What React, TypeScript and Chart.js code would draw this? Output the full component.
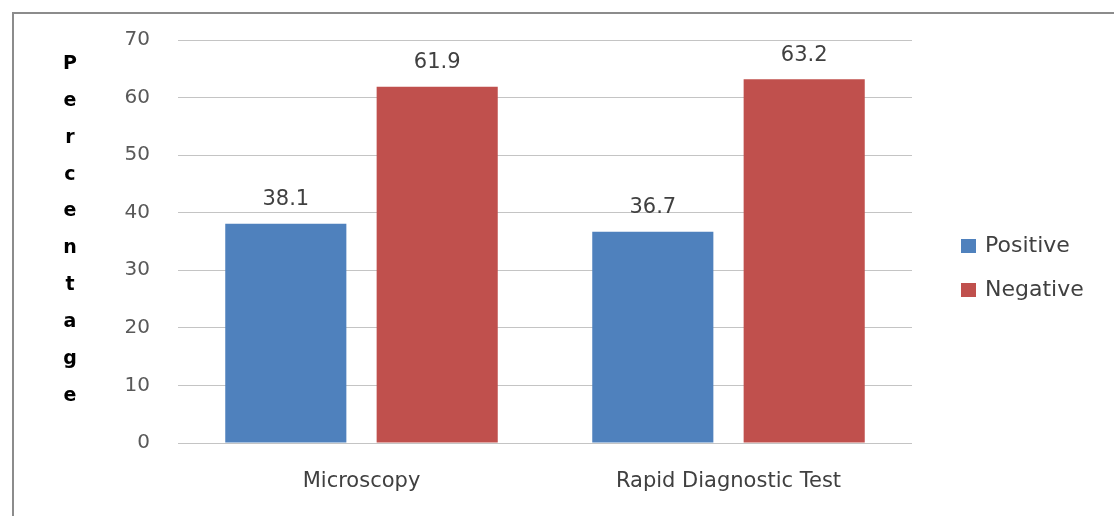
import React, { useEffect, useRef } from "react";
import { Chart, registerables } from "chart.js";

Chart.register(...registerables);

const categories = ["Microscopy", "Rapid Diagnostic Test"];
const seriesNames = ["Positive", "Negative"];
const positiveValues = [38.1, 36.7];
const negativeValues = [61.9, 63.2];
const seriesColors = ["#4F81BD", "#C0504D"];
const yTitle = "Percentage";
const yMin = 0;
const yMax = 70;
const yStep = 10;

const FONT = "'DejaVu Sans', 'Liberation Sans', sans-serif";

const framePlugin = {
  id: "frame",
  beforeDraw(chart: any) {
    const ctx = chart.ctx;
    ctx.save();
    ctx.fillStyle = "#ffffff";
    ctx.fillRect(0, 0, chart.width, chart.height);
    ctx.strokeStyle = "#8c8c8c";
    ctx.lineWidth = 2;
    ctx.beginPath();
    ctx.moveTo(13, chart.height);
    ctx.lineTo(13, 13);
    ctx.lineTo(chart.width, 13);
    ctx.stroke();
    ctx.restore();
  },
};

const extrasPlugin = {
  id: "extras",
  afterDatasetsDraw(chart: any) {
    const ctx = chart.ctx;
    ctx.save();
    // value labels
    ctx.font = `21px ${FONT}`;
    ctx.fillStyle = "#404040";
    ctx.textAlign = "center";
    ctx.textBaseline = "middle";
    chart.data.datasets.forEach((ds: any, di: number) => {
      const meta = chart.getDatasetMeta(di);
      meta.data.forEach((bar: any, i: number) => {
        ctx.fillText(String(ds.data[i]), bar.x, bar.y - 24);
      });
    });
    // vertical stacked axis title
    ctx.font = `bold 19px ${FONT}`;
    ctx.fillStyle = "#000000";
    const letters = yTitle.split("");
    const top = 64;
    const bottom = 396;
    const step = (bottom - top) / (letters.length - 1);
    letters.forEach((ch, i) => {
      ctx.fillText(ch, 70, top + i * step);
    });
    // legend
    ctx.textAlign = "left";
    ctx.font = `22px ${FONT}`;
    chart.data.datasets.forEach((ds: any, di: number) => {
      const cy = 246 + di * 44;
      ctx.fillStyle = ds.backgroundColor;
      ctx.fillRect(961, cy - 7, 15, 14);
      ctx.fillStyle = "#404040";
      ctx.fillText(ds.label, 985, cy);
    });
    ctx.restore();
  },
};

export default function App() {
  const ref = useRef<HTMLCanvasElement>(null);
  useEffect(() => {
    if (!ref.current) return;
    const chart = new Chart(ref.current, {
      type: "bar",
      data: {
        labels: categories,
        datasets: [
          {
            label: seriesNames[0],
            data: positiveValues,
            backgroundColor: seriesColors[0],
            categoryPercentage: 0.825,
            barPercentage: 0.8,
          },
          {
            label: seriesNames[1],
            data: negativeValues,
            backgroundColor: seriesColors[1],
            categoryPercentage: 0.825,
            barPercentage: 0.8,
          },
        ],
      },
      options: {
        responsive: false,
        animation: false,
        devicePixelRatio: 1,
        layout: { padding: { left: 0, right: 202, top: 40, bottom: 0 } },
        plugins: {
          legend: { display: false },
          tooltip: { enabled: false },
        },
        scales: {
          x: {
            grid: { display: false, drawTicks: false },
            border: { display: false },
            ticks: {
              color: "#404040",
              font: { family: FONT, size: 21 },
              padding: 26,
              maxRotation: 0,
            },
            afterFit(scale: any) {
              scale.height = 73;
            },
          },
          y: {
            min: yMin,
            max: yMax,
            grid: { color: "#c4c4c4", lineWidth: 1, drawTicks: false },
            border: { display: false },
            ticks: {
              stepSize: yStep,
              color: "#595959",
              font: { family: FONT, size: 20 },
              padding: 28,
            },
            afterFit(scale: any) {
              scale.width = 178;
            },
          },
        },
      },
      plugins: [framePlugin, extrasPlugin],
    });
    return () => chart.destroy();
  }, []);
  return (
    <div style={{ position: "fixed", left: 0, top: 0, width: 1114, height: 516, background: "#fff" }}>
      <canvas ref={ref} width={1114} height={516} />
    </div>
  );
}
